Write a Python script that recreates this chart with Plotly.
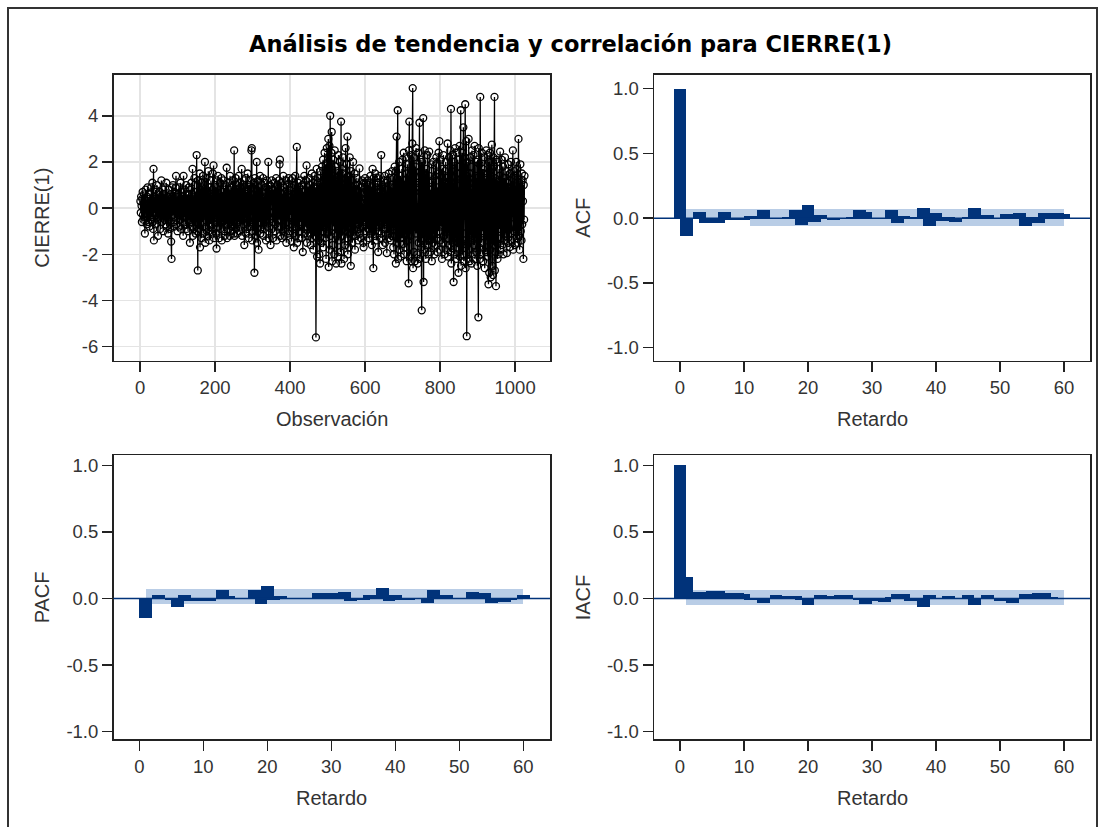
import plotly.graph_objects as go

W, H = 1100, 827

# ---------------- data ----------------
cierre_diff = [
 0.3,-0.2,0.5,0.1,-0.6,0.4,0.7,-0.3,-0.5,0.2,0.6,-0.4,-1.1,0.3,0.8,-0.2,0.1,-0.7,0.5,0.9,-0.3,-0.6,0.4,0.2,-0.8,
 0.6,-0.1,0.3,-0.5,0.9,-0.4,0.2,1.1,-0.6,-0.9,1.7,-1.4,0.5,0.3,-0.2,0.8,-0.7,0.4,-0.3,1.0,-0.5,0.2,-1.2,0.6,0.1,
 -0.4,0.7,0.2,-0.9,0.5,-0.3,1.2,-0.6,0.1,-0.2,0.8,-1.0,0.4,0.6,-0.5,-0.1,0.9,-0.7,0.3,1.1,-0.8,0.2,-0.4,0.5,-1.1,
 0.3,0.8,-0.5,0.2,-0.9,0.6,0.4,-1.45,-2.2,0.9,0.5,-0.3,1.0,-0.6,0.2,-0.8,0.7,0.1,-0.4,0.9,1.4,-0.7,-0.2,0.5,-1.0,
 0.6,-0.3,0.2,0.9,-0.8,0.4,-0.5,1.1,-0.2,-0.9,0.7,0.3,-0.6,0.5,-1.2,1.4,-0.4,0.1,0.8,-0.7,0.3,-0.1,1.0,-0.9,0.4,
 -0.2,0.6,-1.0,0.3,0.9,-0.5,0.2,-1.5,0.8,0.4,-0.6,1.1,-0.3,-0.8,1.7,-1.2,0.5,0.2,-0.9,1.3,-0.4,0.7,-1.1,0.3,-0.6,
 2.3,-1.0,0.4,-2.7,1.2,0.6,-0.9,0.3,1.5,-1.7,0.8,-0.4,1.1,-1.3,0.2,0.9,-0.6,1.4,-1.1,0.5,-0.2,1.0,2.0,-1.5,0.3,
 -0.8,1.3,0.4,-1.2,0.7,-0.3,1.6,-1.0,0.2,-1.4,0.9,0.5,-0.7,1.2,-0.5,0.3,-1.1,0.8,1.5,-0.9,1.85,-1.3,0.4,-0.6,1.0,
 -0.4,0.9,-1.1,-1.75,1.2,0.3,-0.8,1.4,-0.5,0.6,-1.3,0.2,1.1,-0.9,0.5,-0.2,1.3,-1.4,0.7,0.1,-0.6,1.2,-1.0,0.4,0.8,
 -1.2,0.5,1.0,-0.7,0.3,1.75,-1.3,0.6,-0.4,1.1,-0.9,0.2,0.8,-1.2,1.4,-0.6,0.3,-1.0,0.9,0.4,-0.8,1.2,-0.3,0.6,-1.1,
 2.5,-1.2,0.7,-0.5,1.3,-0.9,0.4,1.0,-1.1,0.2,0.8,-0.6,1.4,-1.0,0.5,-0.3,1.1,-0.8,0.3,0.9,1.7,-1.2,0.6,-0.4,1.0,
 -0.7,1.2,-1.6,0.5,0.9,-0.4,1.3,-1.1,0.3,0.7,-0.9,1.5,-0.5,0.2,-1.3,1.0,0.4,-0.8,1.2,-0.6,0.8,2.5,2.6,-1.4,0.6,
 -1.0,0.4,1.1,-0.7,-2.8,1.3,-0.5,0.8,-1.2,0.3,2.0,-1.5,0.6,-0.3,1.2,-1.8,0.9,0.2,-0.6,1.4,-1.1,0.5,-0.2,1.0,-0.9,
 0.7,-0.4,1.3,-1.2,0.5,0.2,-0.9,1.1,-0.6,0.9,-1.4,0.3,1.2,-0.8,0.4,-0.3,2.0,-1.3,0.6,-0.5,1.0,-0.2,-1.6,0.8,0.3,
 1.2,-0.9,0.5,-1.3,0.8,0.1,-0.6,1.1,-1.0,0.4,0.9,-0.7,1.3,-1.4,0.6,-0.2,1.0,-0.8,0.3,1.2,-0.5,1.9,2.1,-1.2,0.4,
 -0.8,1.1,-1.3,0.6,0.2,-1.0,1.4,-0.5,0.9,-1.2,0.3,0.7,-0.9,1.2,-1.5,0.5,1.0,-0.6,0.2,-1.1,1.3,-0.4,0.8,-1.0,0.5,
 -0.3,1.2,0.6,-1.45,0.9,-0.7,1.3,-1.1,0.4,-1.7,1.0,0.3,-0.8,1.4,-1.2,0.5,0.2,2.65,-1.5,0.7,-0.4,1.1,-1.3,0.6,0.9,
 -1.0,0.4,1.2,-0.6,0.8,-1.3,0.3,1.0,-1.9,0.7,0.2,-0.9,1.4,-1.1,0.5,-0.4,1.2,-0.8,1.85,-1.5,0.6,0.9,-1.2,0.3,-0.7,
 1.3,-1.1,0.5,1.0,-1.6,0.8,-0.4,1.5,-1.3,0.2,1.1,-1.8,0.7,-0.5,1.4,-1.2,0.9,0.4,-5.6,1.2,1.7,-2.1,0.6,-0.9,1.3,
 -1.4,0.8,-2.0,1.1,-2.4,1.6,-0.7,0.9,-1.5,1.8,-1.0,0.5,2.1,-1.7,1.2,-0.8,2.4,-1.3,0.6,1.9,-2.2,1.4,2.6,-1.1,0.8,
 2.2,3.0,-2.55,1.5,2.7,-1.8,4.0,-1.2,1.9,2.4,3.3,-2.3,0.9,-1.6,2.1,-0.8,1.4,-2.0,2.5,-1.1,0.7,1.8,-2.4,1.2,-0.5,
 1.6,-2.1,0.8,2.3,-1.4,1.1,-0.6,2.0,-1.9,1.3,3.75,-2.4,0.5,1.7,-1.2,2.2,-0.9,1.0,-2.2,1.5,0.3,-1.6,2.6,-1.0,0.6,
 1.9,-1.3,3.1,-2.0,0.9,1.4,-1.7,0.6,2.2,-1.1,0.4,-2.5,1.6,-0.8,1.2,-1.5,0.7,2.0,-1.2,0.3,-0.9,1.5,-1.8,1.0,0.2,
 -1.2,0.8,1.3,-0.7,0.4,-1.4,1.0,0.5,-0.9,1.72,-1.1,0.3,0.9,-1.3,0.6,-0.4,1.2,-0.8,0.2,-1.5,-1.7,1.1,0.7,-0.6,1.3,
 -1.0,0.4,1.1,-1.4,0.7,-0.3,1.2,-0.9,0.5,1.0,-1.3,0.2,-0.7,1.4,-1.1,0.6,0.9,-1.6,0.3,1.7,-1.0,-2.6,1.3,-0.5,0.8,
 -1.2,1.5,-0.6,0.9,-1.4,0.4,1.1,-0.8,1.3,-1.9,0.7,0.2,-1.0,1.4,-0.5,0.8,-1.3,2.3,-1.1,0.5,1.0,-1.6,0.6,-0.3,1.2,
 -0.9,1.4,-1.5,0.6,1.1,-0.7,0.3,-1.95,1.2,0.8,-1.1,0.5,1.5,-1.3,0.2,-0.6,1.3,-1.4,0.9,0.4,-1.2,1.6,-0.8,0.7,-1.7,
 1.3,-2.0,0.9,1.8,-1.2,0.5,-2.4,1.6,3.1,-1.5,0.8,4.24,-2.2,1.1,-0.7,2.0,-1.8,0.6,1.4,-2.1,1.0,-0.4,1.7,-1.3,2.1,
 -1.0,-1.55,2.4,-2.0,1.2,0.5,-1.7,2.2,-0.9,1.5,-2.3,0.8,1.9,-1.4,0.6,-3.26,2.5,3.75,-2.1,1.0,-1.2,2.3,-0.8,-2.3,1.6,
 2.8,5.2,-2.6,1.4,-1.9,2.2,0.7,-2.3,1.8,-1.1,2.6,-0.6,1.3,-2.0,-2.4,1.1,2.4,-1.5,0.9,3.7,-2.2,1.6,-0.9,2.1,-1.7,
 -4.43,2.0,-1.3,1.5,3.9,-3.2,1.2,-1.8,2.5,-0.7,1.0,-2.2,1.7,0.4,-1.6,2.3,-1.0,0.6,-2.0,1.4,2.45,-1.4,0.8,-1.9,1.1,
 -0.6,1.9,-2.3,1.2,0.5,-1.5,2.0,-1.1,0.7,-2.0,1.4,1.85,-1.6,0.3,2.2,-1.3,0.9,-1.9,1.5,-0.5,2.4,-1.0,2.9,-1.8,0.6,
 -1.4,2.1,-0.8,1.3,-2.2,1.7,0.4,-1.5,2.3,-1.2,0.9,-2.0,1.6,-0.6,2.0,-1.8,1.1,0.3,-1.3,2.8,-2.1,1.4,-0.9,2.2,-1.6,
 1.2,2.5,-1.9,4.3,-2.4,1.6,-1.0,2.3,-1.5,0.8,-3.2,2.0,1.1,-2.0,2.6,-1.3,0.7,-2.2,2.4,1.5,-1.7,2.1,-0.9,-2.8,1.8,
 -1.4,2.7,-2.1,1.0,4.24,-2.5,1.3,-1.6,2.4,-2.0,0.9,3.5,-2.3,1.7,-1.1,2.2,4.5,-2.6,1.4,2.9,-5.55,2.0,-1.5,1.2,-2.2,
 3.0,-1.8,1.5,-2.3,2.2,-0.9,1.8,-1.4,-2.4,2.5,-1.2,0.8,-2.0,2.3,-1.6,1.1,2.7,-2.2,1.4,-0.7,2.0,-1.9,1.3,-2.5,2.1,
 -1.3,-4.73,2.6,-1.7,1.9,-2.2,4.82,-2.0,1.2,-1.5,2.4,-1.0,0.7,1.7,-2.3,1.5,-1.1,2.2,-2.6,1.3,0.5,-1.9,2.5,-1.4,1.0,
 -2.1,2.3,-1.2,-3.3,2.0,-2.8,1.6,2.4,-1.8,-3.0,1.4,2.0,2.75,-2.5,1.1,-2.9,2.2,-1.6,1.8,4.82,-2.7,1.3,-1.9,-3.38,2.1,
 -1.5,2.0,-2.2,1.2,0.6,-2.0,1.7,-0.9,1.4,2.45,-1.8,0.8,-1.3,2.1,-1.6,1.0,-0.5,1.8,-2.0,1.3,0.4,-1.4,2.2,-1.1,0.7,
 -1.2,1.6,-1.95,1.1,0.3,-1.5,1.9,-0.8,1.2,-1.7,0.6,1.5,-1.1,2.0,-1.4,0.9,-0.4,1.3,2.5,-1.8,0.7,-1.0,1.6,0.5,-1.6,
 1.4,-0.9,2.0,-1.3,0.8,1.7,-1.5,0.5,3.0,-1.2,1.1,-1.8,0.6,1.9,-1.0,0.4,-1.4,1.5,-0.7,1.2,0.3,-2.2,1.0,-0.5,1.4,
]
observations = list(range(1, len(cierre_diff) + 1))

acf_lags = list(range(0, 61))
acf_values = [
 1.0,-0.135,0.0,0.048,-0.035,-0.02,-0.035,0.05,-0.01,-0.01,
 -0.01,0.02,0.005,0.06,0.0,0.005,0.0,0.01,0.06,-0.055,
 0.105,-0.03,0.025,0.0,-0.012,0.0,0.005,0.01,0.06,0.045,
 0.0,0.005,0.0,0.06,-0.04,0.02,0.005,0.01,0.08,-0.06,
 0.04,-0.025,0.01,-0.03,0.0,0.01,0.08,0.01,0.025,0.0,
 0.005,0.03,0.03,0.04,-0.06,0.01,-0.04,0.04,0.04,0.04,
 0.035,
]

pacf_lags = list(range(1, 61))
pacf_values = [
 -0.145,0.0,0.03,0.0,-0.01,-0.06,0.03,-0.02,-0.02,-0.02,
 -0.02,0.0,0.065,0.02,-0.005,-0.005,0.0,0.065,-0.04,0.095,
 -0.01,0.02,0.0,-0.005,-0.005,-0.005,0.0,0.045,0.045,0.04,
 0.0,0.05,-0.015,-0.01,-0.01,0.03,0.0,0.078,-0.02,0.03,
 -0.01,-0.01,0.0,0.0,-0.035,0.065,0.0,0.03,0.0,0.0,
 0.0,0.05,0.04,0.04,-0.03,-0.01,-0.025,-0.01,0.0,0.025,
]

iacf_lags = list(range(0, 61))
iacf_values = [
 1.0,0.16,0.035,0.05,0.05,0.06,0.06,0.04,0.04,0.04,
 0.035,-0.01,0.0,-0.03,0.0,0.03,0.02,0.02,0.02,-0.01,
 -0.045,0.0,0.03,0.02,0.0,0.03,0.03,0.0,-0.01,-0.04,
 -0.02,0.0,-0.025,0.015,0.035,0.035,-0.02,0.0,-0.06,0.03,
 0.0,0.0,0.02,0.0,0.0,0.03,-0.045,0.0,0.025,0.0,
 -0.015,0.0,-0.035,0.0,0.035,0.0,0.045,0.045,0.012,0.0,
 0.0,
]

# two-standard-error bands, one segment starting at each lag 1..59 (band spans lag 1 to 60)
band_lags = list(range(1, 60))
acf_band_upper = [0.068] * 59
acf_band_lower = [-0.005] * 10 + [-0.057] * 49
pacf_band_upper = [0.072] * 59
pacf_band_lower = [-0.042] * 59
iacf_band_upper = [0.067] * 59
iacf_band_lower = [-0.045] * 59

obs_ticks = [0, 200, 400, 600, 800, 1000]
obs_yticks = [-6, -4, -2, 0, 2, 4]
obs_yticklabels = ["-6", "-4", "-2", "0", "2", "4"]
lag_ticks = [0, 10, 20, 30, 40, 50, 60]
corr_ticks = [-1.0, -0.5, 0.0, 0.5, 1.0]
corr_ticklabels = ["-1.0", "-0.5", "0.0", "0.5", "1.0"]

# ---------------- style ----------------
NAVY = "#01337A"
BAND = "#B9CDE6"
AXC = "#222222"
TXT = "#333333"
FONT = "Liberation Sans"


def px_x(v):
    return v / W


def px_y(v):
    return 1 - v / H


fig = go.Figure()

# time series
fig.add_trace(go.Scatter(
    x=observations, y=cierre_diff, mode="lines+markers",
    line=dict(color="black", width=1.3),
    marker=dict(symbol="circle-open", size=7, color="black", line=dict(width=1.3, color="black")),
    xaxis="x", yaxis="y", showlegend=False, hoverinfo="skip"))


def add_corr(lags, vals, up, lo, xa, ya):
    heights = [u - l for u, l in zip(up, lo)]
    fig.add_trace(go.Bar(x=band_lags, y=heights, base=lo, width=1.0, offset=0,
                         marker=dict(color=BAND, line=dict(width=0)),
                         xaxis=xa, yaxis=ya, showlegend=False, hoverinfo="skip"))
    fig.add_trace(go.Bar(x=lags, y=vals, width=2.0, marker=dict(color=NAVY, line=dict(width=0)),
                         xaxis=xa, yaxis=ya, showlegend=False, hoverinfo="skip"))


add_corr(acf_lags, acf_values, acf_band_upper, acf_band_lower, "x2", "y2")
add_corr(pacf_lags, pacf_values, pacf_band_upper, pacf_band_lower, "x3", "y3")
add_corr(iacf_lags, iacf_values, iacf_band_upper, iacf_band_lower, "x4", "y4")

common = dict(showline=True, mirror=True, linecolor=AXC, linewidth=1.5,
              ticks="outside", ticklen=10, tickwidth=1.5, tickcolor=AXC,
              tickfont=dict(family=FONT, size=18.5, color=TXT),
              zeroline=False, fixedrange=True)

L1, R1 = 113.5, 550
L2, R2 = 654, 1090
T1, B1 = 75, 362
T2, B2 = 457, 742
GRID = dict(showgrid=True, gridcolor="#E4E4E4", gridwidth=1.5)
NOGRID = dict(showgrid=False)

fig.update_layout(
    width=W, height=H, margin=dict(l=0, r=0, t=0, b=0),
    paper_bgcolor="white", plot_bgcolor="white", barmode="overlay", bargap=0,
    showlegend=False,
    xaxis=dict(domain=[px_x(L1), px_x(R1)], range=[-70.7, 1093], tickvals=obs_ticks,
               anchor="y", **GRID, **common),
    yaxis=dict(domain=[px_y(B1), px_y(T1)], range=[-6.61, 5.78], tickvals=obs_yticks,
               ticktext=obs_yticklabels, anchor="x", **GRID, **common),
    xaxis2=dict(domain=[px_x(L2), px_x(R2)], range=[-4.06, 64.06], tickvals=lag_ticks,
                anchor="y2", **NOGRID, **common),
    yaxis2=dict(domain=[px_y(B1), px_y(T1)], range=[-1.1, 1.108], tickvals=corr_ticks,
                ticktext=corr_ticklabels, anchor="x2", **NOGRID, **common),
    xaxis3=dict(domain=[px_x(L1), px_x(R1)], range=[-4.03, 64.17], tickvals=lag_ticks,
                anchor="y3", **NOGRID, **common),
    yaxis3=dict(domain=[px_y(B2), px_y(T2)], range=[-1.057, 1.075], tickvals=corr_ticks,
                ticktext=corr_ticklabels, anchor="x3", **NOGRID, **common),
    xaxis4=dict(domain=[px_x(L2), px_x(R2)], range=[-4.06, 64.06], tickvals=lag_ticks,
                anchor="y4", **NOGRID, **common),
    yaxis4=dict(domain=[px_y(B2), px_y(T2)], range=[-1.057, 1.075], tickvals=corr_ticks,
                ticktext=corr_ticklabels, anchor="x4", **NOGRID, **common),
)

# zero reference lines on correlation panels
for xa, ya in (("x2", "y2"), ("x3", "y3"), ("x4", "y4")):
    fig.add_shape(type="line", xref=f"{xa} domain", yref=ya, x0=0, x1=1, y0=0, y1=0,
                  line=dict(color=NAVY, width=1.5), layer="above")

# outer frame
fig.add_shape(type="rect", xref="paper", yref="paper",
              x0=px_x(8), x1=px_x(1097), y0=px_y(840), y1=px_y(8),
              line=dict(color="#333333", width=2), fillcolor="rgba(0,0,0,0)", layer="above")

ann = []
ann.append(dict(text="Análisis de tendencia y correlación para CIERRE(1)", x=px_x(570.5), y=px_y(44),
                xref="paper", yref="paper", showarrow=False, xanchor="center", yanchor="middle",
                font=dict(family="DejaVu Sans", size=22.5, color="black", weight="bold")))
axis_titles = [
    ("Observación", (L1 + R1) / 2, 421, 0),
    ("Retardo", (L2 + R2) / 2, 421, 0),
    ("Retardo", (L1 + R1) / 2, 801, 0),
    ("Retardo", (L2 + R2) / 2, 801, 0),
    ("CIERRE(1)", 42, (T1 + B1) / 2, -90),
    ("ACF", 583, (T1 + B1) / 2, -90),
    ("PACF", 42, (T2 + B2) / 2, -90),
    ("IACF", 583, (T2 + B2) / 2, -90),
]
for t, xx, yy, ang in axis_titles:
    ann.append(dict(text=t, x=px_x(xx), y=px_y(yy), xref="paper", yref="paper", showarrow=False,
                    xanchor="center", yanchor="middle", textangle=ang,
                    font=dict(family=FONT, size=20, color=TXT)))
fig.update_layout(annotations=ann)

fig.write_html("out.html", config={"displayModeBar": False, "staticPlot": True},
               post_script="document.body.style.margin='0';document.body.style.overflow='hidden';")
